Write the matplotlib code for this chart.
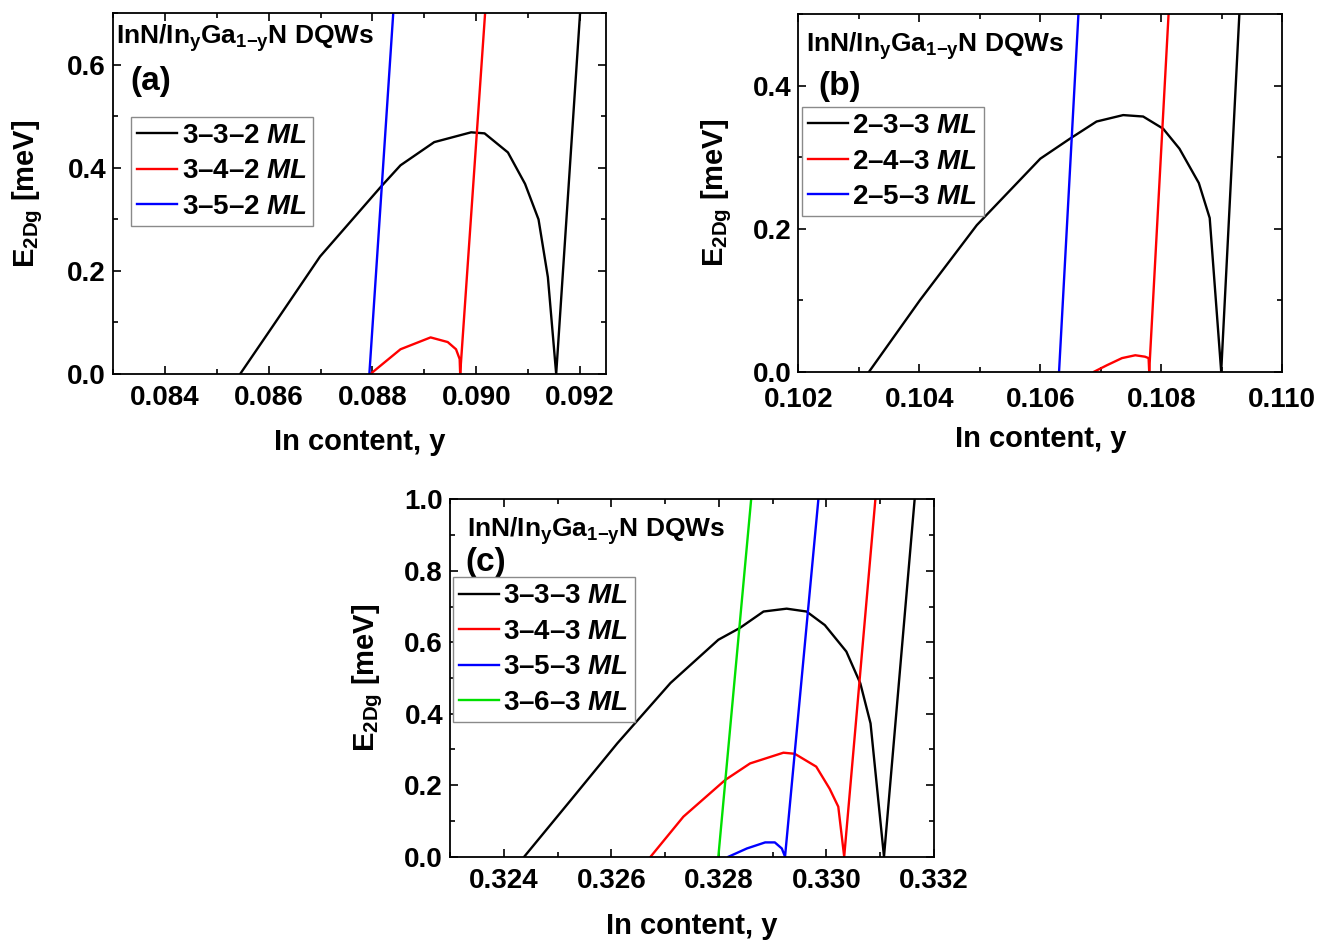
import matplotlib
matplotlib.use('Agg')
import matplotlib.pyplot as plt
from matplotlib.ticker import MultipleLocator, FormatStrFormatter

plt.rcParams['font.family'] = ['Liberation Sans', 'DejaVu Sans']
plt.rcParams['font.weight'] = 'bold'
plt.rcParams['mathtext.fontset'] = 'custom'
plt.rcParams['mathtext.rm'] = 'Liberation Sans:bold'
plt.rcParams['mathtext.bf'] = 'Liberation Sans:bold'
plt.rcParams['mathtext.it'] = 'Liberation Sans:italic:bold'
plt.rcParams['mathtext.sf'] = 'Liberation Sans:bold'

# ---------------- data ----------------
# panel (a)
a_labels = ['3\u20133\u20132', '3\u20134\u20132', '3\u20135\u20132']
a_332_x = [0.08545, 0.08608, 0.08699, 0.08770, 0.08815, 0.08854, 0.08919, 0.08990,
           0.09016, 0.09061, 0.09094, 0.09120, 0.09138, 0.09154, 0.09200]
a_332_y = [0.0, 0.093, 0.228, 0.310, 0.362, 0.405, 0.450, 0.469,
           0.467, 0.430, 0.369, 0.300, 0.188, 0.0, 0.70]
a_342_x = [0.08796, 0.08854, 0.08912, 0.08945, 0.08961, 0.08968, 0.08969, 0.09017]
a_342_y = [0.0, 0.048, 0.071, 0.062, 0.048, 0.029, 0.0, 0.70]
a_352_x = [0.08794, 0.08840]
a_352_y = [0.0, 0.70]

# panel (b)
b_labels = ['2\u20133\u20133', '2\u20134\u20133', '2\u20135\u20133']
b_233_x = [0.10317, 0.10401, 0.10495, 0.10600, 0.10649, 0.10693, 0.10737, 0.10770,
           0.10803, 0.10830, 0.10862, 0.10880, 0.10899, 0.10929]
b_233_y = [0.0, 0.100, 0.205, 0.298, 0.326, 0.350, 0.359, 0.357,
           0.340, 0.312, 0.264, 0.215, 0.0, 0.50]
b_243_x = [0.10689, 0.10710, 0.10735, 0.10757, 0.10773, 0.10779, 0.10780, 0.10812]
b_243_y = [0.0, 0.009, 0.019, 0.023, 0.021, 0.019, 0.0, 0.50]
b_253_x = [0.10631, 0.10663]
b_253_y = [0.0, 0.50]

# panel (c)
c_labels = ['3\u20133\u20133', '3\u20134\u20133', '3\u20135\u20133', '3\u20136\u20133']
c_333_x = [0.32438, 0.32525, 0.32611, 0.32710, 0.32799, 0.32839, 0.32883, 0.32926,
           0.32963, 0.32997, 0.33037, 0.33063, 0.33082, 0.33107, 0.33164]
c_333_y = [0.0, 0.159, 0.317, 0.486, 0.607, 0.640, 0.686, 0.694,
           0.686, 0.648, 0.574, 0.485, 0.373, 0.0, 1.0]
c_343_x = [0.32673, 0.32734, 0.32812, 0.32858, 0.32920, 0.32941, 0.32981, 0.33006,
           0.33022, 0.33033, 0.33091]
c_343_y = [0.0, 0.112, 0.215, 0.261, 0.291, 0.288, 0.252, 0.190, 0.140, 0.0, 1.0]
c_353_x = [0.32818, 0.32852, 0.32886, 0.32904, 0.32917, 0.32923, 0.32985]
c_353_y = [0.0, 0.023, 0.040, 0.040, 0.023, 0.0, 1.0]
c_363_x = [0.32799, 0.32860]
c_363_y = [0.0, 1.0]

colors = ['black', '#ff0000', '#0000ff', '#00e000']

W, H = 1331, 940
fig = plt.figure(figsize=(W / 100, H / 100), dpi=100)


def make_axes(l, r, t, b):
    return fig.add_axes([l / W, 1 - b / H, (r - l) / W, (b - t) / H])


def style(ax, xlim, ylim, xfmt, xpad=8):
    ax.set_xlim(*xlim)
    ax.set_ylim(*ylim)
    ax.xaxis.set_major_locator(MultipleLocator(0.002))
    ax.xaxis.set_minor_locator(MultipleLocator(0.001))
    ax.yaxis.set_major_locator(MultipleLocator(0.2))
    ax.yaxis.set_minor_locator(MultipleLocator(0.1))
    ax.xaxis.set_major_formatter(FormatStrFormatter(xfmt))
    ax.yaxis.set_major_formatter(FormatStrFormatter('%.1f'))
    ax.tick_params(which='both', direction='in', top=True, right=True, width=1.2)
    ax.tick_params(which='major', length=6, labelsize=20)
    ax.tick_params(which='minor', length=3.5)
    ax.tick_params(axis='x', pad=xpad)
    ax.tick_params(axis='y', pad=5)
    for s in ax.spines.values():
        s.set_linewidth(1.3)
    ax.set_xlabel('In content, y', fontsize=21, fontweight='bold')
    ax.set_ylabel(r'E$_{\mathrm{2Dg}}$ [meV]', fontsize=21, fontweight='bold')


def legend(ax, handles, labels, pos):
    leg = ax.legend(handles, [lb + r' $\mathit{ML}$' for lb in labels],
                    loc='upper left', bbox_to_anchor=pos, borderaxespad=0,
                    fontsize=20, frameon=True, fancybox=False, framealpha=1,
                    edgecolor='#8a8a8a', handlelength=1.45, handletextpad=0.15,
                    borderpad=0.22, labelspacing=0.34)
    leg.get_frame().set_linewidth(1.0)


title = r'InN/In$_{\mathrm{y}}$Ga$_{\mathrm{1{-}y}}$N DQWs'

# ---- panel (a)
ax = make_axes(113, 606, 13.3, 374)
h1, = ax.plot(a_332_x, a_332_y, color=colors[0], lw=1.7)
h2, = ax.plot(a_342_x, a_342_y, color=colors[1], lw=1.7)
h3, = ax.plot(a_352_x, a_352_y, color=colors[2], lw=1.7)
style(ax, (0.083, 0.0925), (0, 0.7), '%.3f')
ax.text(0.006, 0.916, title, transform=ax.transAxes, fontsize=19, fontweight='bold',
        ha='left', va='baseline')
ax.text(0.036, 0.786, '(a)', transform=ax.transAxes, fontsize=24, fontweight='bold',
        ha='left', va='baseline')
legend(ax, [h1, h2, h3], a_labels, (0.0365, 0.7133))
ax.xaxis.set_label_coords(0.5, -0.15)
ax.yaxis.set_label_coords(-0.137, 0.5)

# ---- panel (b)
ax = make_axes(798.3, 1282.3, 14.3, 371.7)
h1, = ax.plot(b_233_x, b_233_y, color=colors[0], lw=1.7)
h2, = ax.plot(b_243_x, b_243_y, color=colors[1], lw=1.7)
h3, = ax.plot(b_253_x, b_253_y, color=colors[2], lw=1.7)
style(ax, (0.102, 0.110), (0, 0.5), '%.3f', xpad=11)
ax.text(0.0153, 0.8956, title, transform=ax.transAxes, fontsize=19, fontweight='bold',
        ha='left', va='baseline')
ax.text(0.042, 0.773, '(b)', transform=ax.transAxes, fontsize=24, fontweight='bold',
        ha='left', va='baseline')
legend(ax, [h1, h2, h3], b_labels, (0.0068, 0.7406))
ax.xaxis.set_label_coords(0.5, -0.15)
ax.yaxis.set_label_coords(-0.133, 0.5)

# ---- panel (c)
ax = make_axes(450, 934, 499.3, 856.7)
h1, = ax.plot(c_333_x, c_333_y, color=colors[0], lw=1.7)
h2, = ax.plot(c_343_x, c_343_y, color=colors[1], lw=1.7)
h3, = ax.plot(c_353_x, c_353_y, color=colors[2], lw=1.7)
h4, = ax.plot(c_363_x, c_363_y, color=colors[3], lw=1.7)
style(ax, (0.323, 0.332), (0, 1.0), '%.3f')
ax.text(0.0353, 0.896, title, transform=ax.transAxes, fontsize=19, fontweight='bold',
        ha='left', va='baseline')
ax.text(0.031, 0.80, '(c)', transform=ax.transAxes, fontsize=24, fontweight='bold',
        ha='left', va='baseline')
legend(ax, [h1, h2, h3, h4], c_labels, (0.006, 0.7818))
ax.xaxis.set_label_coords(0.5, -0.155)
ax.yaxis.set_label_coords(-0.135, 0.5)

fig.savefig('out.png', dpi=100)
